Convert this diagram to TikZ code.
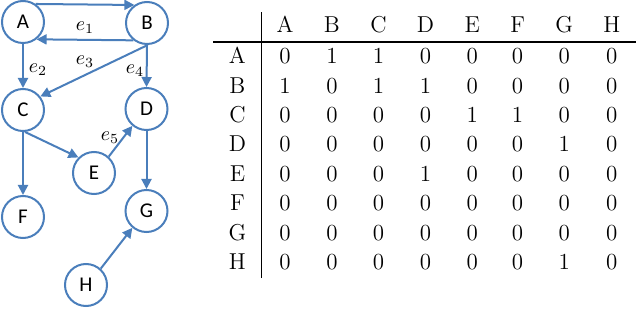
\documentclass[tikz,border=0pt]{standalone}
\usepackage{fontspec}
\newfontfamily\nodefont{Carlito}
\usepackage{tikz}
\usetikzlibrary{arrows.meta}
\definecolor{edgeblue}{RGB}{74,126,187}

\tikzset{
  vertex/.style={draw=edgeblue,circle,line width=1pt,minimum size=21pt,inner sep=0pt,font=\nodefont\fontsize{10.5}{12}\selectfont},
  link/.style={draw=edgeblue,line width=1pt,-{Triangle[length=5pt,width=5pt]}},
  elabel/.style={inner sep=0pt,font=\fontsize{10}{11}\selectfont}
}

\begin{document}
\begin{tikzpicture}[x=0.5pt,y=-0.5pt]
\useasboundingbox (0,0) rectangle (640,309);
% graph
\node[vertex] (A) at (23,22) {A};
\node[vertex] (B) at (147,23) {B};
\node[vertex] (C) at (23,110) {C};
\node[vertex] (D) at (146.5,109) {D};
\node[vertex] (E) at (94,173) {E};
\node[vertex] (F) at (23,217) {F};
\node[vertex] (G) at (146.5,211) {G};
\node[vertex] (H) at (86,285) {H};
\draw[link] (A.55) -- (B.125); \draw[link] (B.-128) -- (A.-52);
\draw[link] (A) -- (C); \draw[link] (B.-88) -- (C.38); \draw[link] (B.south) -- (D.north);
\draw[link] (C.-85) -- (E.135); \draw[link] (E.48) -- (D.-130);
\draw[link] (C) -- (F); \draw[link] (D) -- (G); \draw[link] (H.48) -- (G.-130);
\node[elabel] (e1) at (85,28) {$e_1$};
\node[elabel] (e2) at (38,70) {$e_2$};
\node[elabel] (e3) at (85,62) {$e_3$};
\node[elabel] (e4) at (135,71) {$e_4$};
\node[elabel] (e5) at (110,138) {$e_5$};
% adjacency matrix
\node[anchor=north west,inner sep=0pt] (adj) at (213,11.5) {%
\fontsize{11.5}{13.8}\selectfont
\renewcommand{\arraystretch}{1.065}\setlength{\tabcolsep}{7.6pt}\setlength{\arrayrulewidth}{0.9pt}%
\begin{tabular}{c|cccccccc}
  & A & B & C & D & E & F & G & H \\ \hline
A & 0 & 1 & 1 & 0 & 0 & 0 & 0 & 0 \\
B & 1 & 0 & 1 & 1 & 0 & 0 & 0 & 0 \\
C & 0 & 0 & 0 & 0 & 1 & 1 & 0 & 0 \\
D & 0 & 0 & 0 & 0 & 0 & 0 & 1 & 0 \\
E & 0 & 0 & 0 & 1 & 0 & 0 & 0 & 0 \\
F & 0 & 0 & 0 & 0 & 0 & 0 & 0 & 0 \\
G & 0 & 0 & 0 & 0 & 0 & 0 & 0 & 0 \\
H & 0 & 0 & 0 & 0 & 0 & 0 & 1 & 0
\end{tabular}};
\end{tikzpicture}
\end{document}
